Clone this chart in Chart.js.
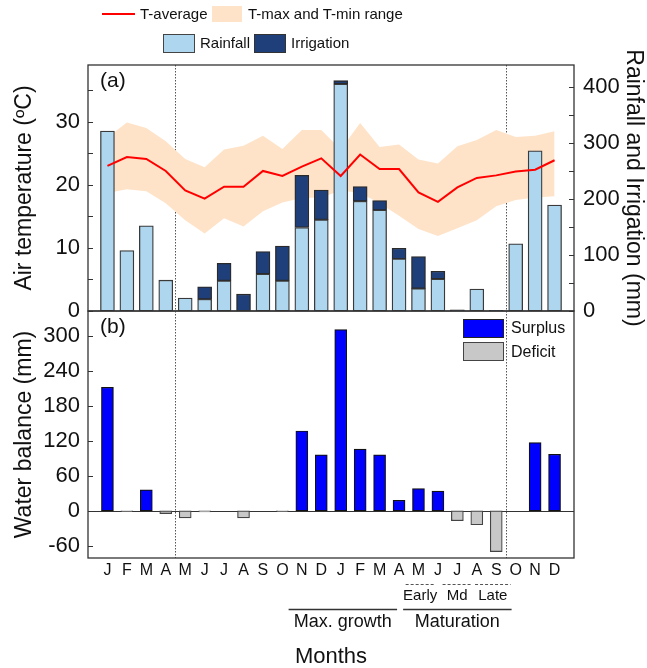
<!DOCTYPE html>
<html>
<head>
<meta charset="utf-8">
<script src="https://cdn.jsdelivr.net/npm/chart.js@4.4.0/dist/chart.umd.min.js"></script>
<style>
  body { margin: 0; background: #fff; }
  #wrap { position: relative; width: 647px; height: 668px; font-family: "Liberation Sans", Arial, sans-serif; color: #111; }
  #wrap canvas { position: absolute; left: 0; top: 0; }
  .lg { position: absolute; font-size: 15px; line-height: 16px; white-space: nowrap; }
  .box { position: absolute; box-sizing: border-box; }
</style>
</head>
<body>
<div id="wrap">
  <canvas id="topChart" width="647" height="668"></canvas>
  <canvas id="bottomChart" width="647" height="668"></canvas>

  <!-- legend, panel (a) -->
  <div class="box" style="left:102px;top:13px;width:33px;height:2px;background:#ff0000"></div>
  <div class="lg" style="left:140px;top:6px">T-average</div>
  <div class="box" style="left:212px;top:6px;width:30px;height:16px;background:#fee3c8"></div>
  <div class="lg" style="left:248px;top:6px">T-max and T-min range</div>
  <div class="box" style="left:163px;top:34px;width:32px;height:19px;background:#aed6ee;border:1px solid #444"></div>
  <div class="lg" style="left:200px;top:35px">Rainfall</div>
  <div class="box" style="left:254px;top:34px;width:32px;height:19px;background:#1f3f7a;border:1px solid #333"></div>
  <div class="lg" style="left:291px;top:35px">Irrigation</div>

  <!-- legend, panel (b) -->
  <div class="box" style="left:463px;top:319px;width:41px;height:19px;background:#0000ff;border:1px solid #222"></div>
  <div class="lg" style="left:511px;top:320px;font-size:16px">Surplus</div>
  <div class="box" style="left:463px;top:342px;width:41px;height:19px;background:#c8c8c8;border:1px solid #444"></div>
  <div class="lg" style="left:511px;top:344px;font-size:16px">Deficit</div>
</div>

<script>
const months = ['J','F','M','A','M','J','J','A','S','O','N','D','J','F','M','A','M','J','J','A','S','O','N','D'];
const tAvg = [23.0,24.4,24.1,22.2,19.1,17.8,19.7,19.7,22.2,21.4,22.9,24.2,21.4,24.8,22.5,22.5,18.8,17.3,19.6,21.1,21.5,22.1,22.4,23.9];
const tMax = [27.5,29.9,29.0,26.9,24.1,22.8,25.6,26.2,27.8,25.7,28.7,28.7,25.6,29.8,26.0,26.4,24.0,23.4,26.1,27.1,28.7,27.6,27.8,28.5];
const tMin = [18.7,19.3,19.0,17.1,14.4,12.3,14.7,13.4,15.8,17.2,17.9,18.0,19.1,18.7,17.1,15.1,13.0,11.9,13.1,14.4,16.6,17.6,18.0,18.2];
const rainfall = [321,108,152,55,23,21,54,0,66,54,149,163,405,196,180,93,40,57,0,39,0,120,286,189];
const irrigation = [0,0,0,0,0,22,31,30,40,62,93,53,6,26,17,19,57,14,2,0,1,0,0,0];
const waterBalance = [212,-1,36,-5,-12,-2,0,-12,0,-1,137,96,311,106,96,18,38,34,-17,-24,-70,0,117,97];

const tempTicks = [0,10,20,30];
const tempMinor = [5,15,25,35];
const rainTicks = [0,100,200,300,400];
const rainMinor = [50,150,250,350];
const balanceTicks = [-60,0,60,120,180,240,300];

// season dividers (between A|M and S|O)
const dividers = [4.5, 21.5];
const subStages = ['Early', 'Md', 'Late'];
const subSpans = [[16.34, 17.83], [18.24, 19.73], [19.91, 21.74]];
const mainStages = ['Max. growth', 'Maturation'];
const mainSpans = [[10.32, 15.9], [16.21, 21.79]];

const FONT = "'Liberation Sans', Arial, sans-serif";
Chart.defaults.font.family = FONT;
Chart.defaults.color = '#111';

const pts = arr => arr.map((v, i) => ({x: i + 1, y: v}));
const fixedTicks = vals => s => { s.ticks = vals.map(v => ({value: v})); };

function frame(chart) {
    const a = chart.chartArea, ctx = chart.ctx;
    ctx.save();
    ctx.strokeStyle = '#333';
    ctx.lineWidth = 1.3;
    ctx.strokeRect(a.left, a.top, a.right - a.left, a.bottom - a.top);
    ctx.restore();
}

function innerTicks(chart, scale, values, side) {
    const a = chart.chartArea, ctx = chart.ctx;
    ctx.save();
    ctx.strokeStyle = '#333';
    ctx.lineWidth = 1;
    values.forEach(v => {
        const y = Math.round(scale.getPixelForValue(v)) + 0.5;
        const x0 = side === 'left' ? a.left : a.right;
        const x1 = side === 'left' ? a.left + 5 : a.right - 5;
        ctx.beginPath();
        ctx.moveTo(x0, y);
        ctx.lineTo(x1, y);
        ctx.stroke();
    });
    ctx.restore();
}

function drawDividers(chart) {
    const a = chart.chartArea, ctx = chart.ctx;
    ctx.save();
    ctx.strokeStyle = '#555';
    ctx.lineWidth = 1;
    ctx.setLineDash([1.5, 1.5]);
    dividers.forEach(v => {
        const x = Math.round(chart.scales.x.getPixelForValue(v)) + 0.5;
        ctx.beginPath();
        ctx.moveTo(x, a.top);
        ctx.lineTo(x, a.bottom);
        ctx.stroke();
    });
    ctx.restore();
}

function panelLabel(chart, text) {
    const a = chart.chartArea, ctx = chart.ctx;
    ctx.save();
    ctx.font = '21px ' + FONT;
    ctx.fillStyle = '#111';
    ctx.textBaseline = 'middle';
    ctx.fillText(text, a.left + 12, a.top + 16);
    ctx.restore();
}

const topChart = new Chart(document.getElementById('topChart'), {
    data: {
        datasets: [
            { type: 'line', label: 'T-min', data: pts(tMin), yAxisID: 'yT', borderWidth: 0, pointRadius: 0, fill: false, order: 4 },
            { type: 'line', label: 'T-max and T-min range', data: pts(tMax), yAxisID: 'yT', borderWidth: 0, pointRadius: 0,
              fill: '-1', backgroundColor: '#fee3c8', order: 3 },
            { type: 'bar', label: 'Rainfall', data: pts(rainfall), yAxisID: 'yR', backgroundColor: '#aed6ee',
              borderColor: '#3a3a3a', borderWidth: 1.3, borderSkipped: false, barThickness: 14, order: 2 },
            { type: 'bar', label: 'Irrigation', data: pts(irrigation), yAxisID: 'yR', backgroundColor: '#1f3f7a',
              borderColor: '#2a2a2a', borderWidth: 1.3, borderSkipped: false, barThickness: 14, order: 2 },
            { type: 'line', label: 'T-average', data: pts(tAvg), yAxisID: 'yT', borderColor: '#ff0000',
              borderWidth: 2, pointRadius: 0, tension: 0, fill: false, order: 1 }
        ]
    },
    options: {
        responsive: false,
        animation: false,
        events: [],
        layout: { padding: { top: 65, bottom: 357, left: 0, right: 0 } },
        plugins: { legend: { display: false }, tooltip: { enabled: false } },
        scales: {
            x: { type: 'linear', display: false, min: 0, max: 25, offset: false, stacked: true },
            yT: {
                position: 'left', min: 0, max: 39,
                afterFit: s => { s.width = 88; },
                afterBuildTicks: fixedTicks(tempTicks),
                grid: { display: false, drawTicks: false },
                border: { display: false },
                ticks: { padding: 8, font: { size: 22 } },
                title: { display: true, text: 'Air temperature (ºC)', font: { size: 23 }, padding: { top: 11 } }
            },
            yR: {
                position: 'right', min: 0, max: 439, stacked: true,
                afterFit: s => { s.width = 73; },
                afterBuildTicks: fixedTicks(rainTicks),
                grid: { display: false, drawTicks: false },
                border: { display: false },
                ticks: { padding: 9, font: { size: 22 } },
                title: { display: true, text: 'Rainfall and Irrigation (mm)', font: { size: 23 }, padding: { top: 0 } }
            }
        }
    },
    plugins: [{
        id: 'panelA',
        beforeDatasetsDraw(chart) { drawDividers(chart); },
        afterDatasetsDraw(chart) {
            frame(chart);
            innerTicks(chart, chart.scales.yT, tempTicks.concat(tempMinor), 'left');
            innerTicks(chart, chart.scales.yR, rainTicks.concat(rainMinor), 'right');
            panelLabel(chart, '(a)');
        }
    }]
});

const bottomChart = new Chart(document.getElementById('bottomChart'), {
    type: 'bar',
    data: {
        datasets: [{
            label: 'Water balance',
            data: pts(waterBalance),
            backgroundColor: c => waterBalance[c.dataIndex] >= 0 ? '#0000ff' : '#c8c8c8',
            borderColor: c => waterBalance[c.dataIndex] >= 0 ? '#111' : '#444',
            borderWidth: 1.2,
            borderSkipped: false,
            barThickness: 12
        }]
    },
    options: {
        responsive: false,
        animation: false,
        events: [],
        layout: { padding: { top: 311, bottom: 0, left: 0, right: 73 } },
        plugins: { legend: { display: false }, tooltip: { enabled: false } },
        scales: {
            x: {
                type: 'linear', min: 0, max: 25, offset: false,
                afterFit: s => { s.height = 110; },
                afterBuildTicks: fixedTicks(months.map((m, i) => i + 1)),
                grid: { display: false, drawTicks: false, offset: false },
                border: { display: false },
                ticks: { padding: 3, autoSkip: false, maxRotation: 0, font: { size: 16 },
                         callback: v => months[v - 1] },
                title: { display: true, text: 'Months', font: { size: 22 }, padding: { top: 0, bottom: -2 } }
            },
            y: {
                position: 'left', min: -81, max: 343,
                afterFit: s => { s.width = 88; },
                afterBuildTicks: fixedTicks(balanceTicks),
                grid: { display: false, drawTicks: false },
                border: { display: false },
                ticks: { padding: 8, font: { size: 22 } },
                title: { display: true, text: 'Water balance (mm)', font: { size: 23 }, padding: { top: 11 } }
            }
        }
    },
    plugins: [{
        id: 'panelB',
        beforeDatasetsDraw(chart) {
            drawDividers(chart);
            const a = chart.chartArea, ctx = chart.ctx;
            const y0 = Math.round(chart.scales.y.getPixelForValue(0)) + 0.5;
            ctx.save();
            ctx.strokeStyle = '#333';
            ctx.lineWidth = 1;
            ctx.beginPath();
            ctx.moveTo(a.left, y0);
            ctx.lineTo(a.right, y0);
            ctx.stroke();
            ctx.restore();
        },
        afterDatasetsDraw(chart) {
            frame(chart);
            innerTicks(chart, chart.scales.y, balanceTicks, 'left');
            panelLabel(chart, '(b)');
        },
        afterDraw(chart) {
            const ctx = chart.ctx, x = chart.scales.x;
            ctx.save();
            ctx.fillStyle = '#111';
            ctx.textAlign = 'center';
            ctx.textBaseline = 'middle';
            // growth-stage sub-labels with dashed lines
            ctx.strokeStyle = '#555';
            ctx.lineWidth = 1;
            ctx.setLineDash([3, 2]);
            ctx.font = '15px ' + FONT;
            subStages.forEach((name, i) => {
                const x0 = x.getPixelForValue(subSpans[i][0]);
                const x1 = x.getPixelForValue(subSpans[i][1]);
                ctx.beginPath();
                ctx.moveTo(x0, 584.5);
                ctx.lineTo(x1, 584.5);
                ctx.stroke();
                ctx.fillText(name, (x0 + x1) / 2, 596);
            });
            // main stages with solid lines
            ctx.setLineDash([]);
            ctx.strokeStyle = '#333';
            ctx.lineWidth = 1.3;
            ctx.font = '18px ' + FONT;
            mainStages.forEach((name, i) => {
                const x0 = x.getPixelForValue(mainSpans[i][0]);
                const x1 = x.getPixelForValue(mainSpans[i][1]);
                ctx.beginPath();
                ctx.moveTo(x0, 609.5);
                ctx.lineTo(x1, 609.5);
                ctx.stroke();
                ctx.fillText(name, (x0 + x1) / 2, 622);
            });
            ctx.restore();
        }
    }]
});
</script>
</body>
</html>
